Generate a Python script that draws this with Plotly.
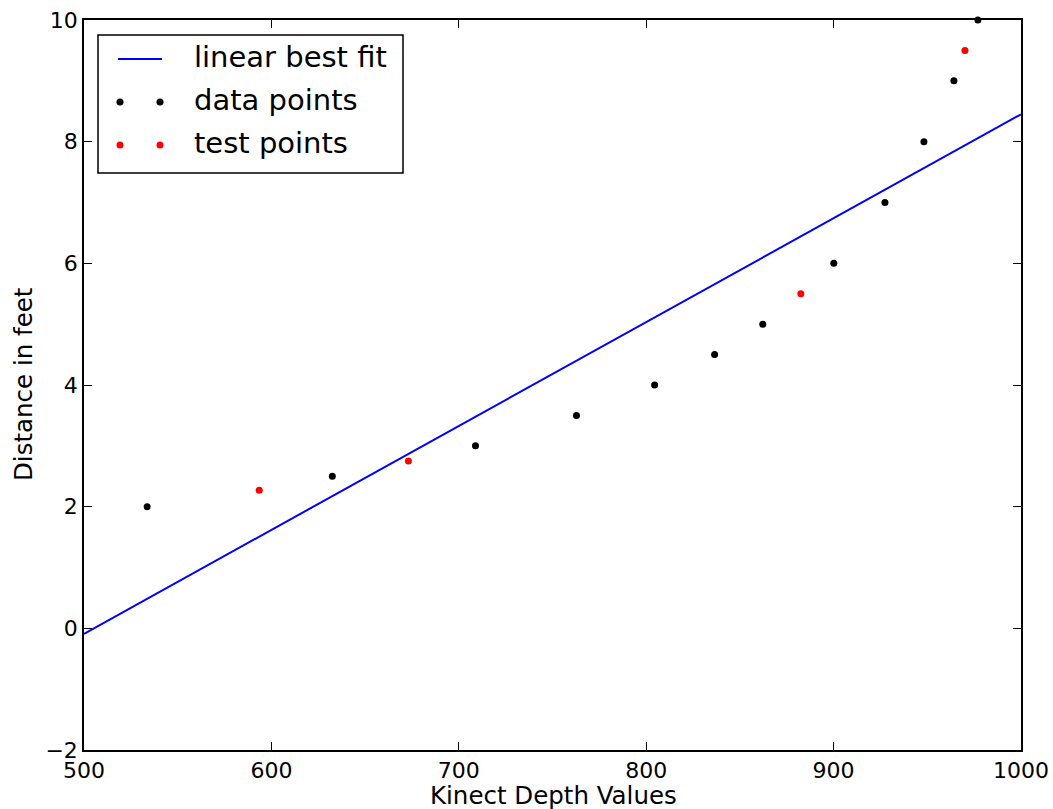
import plotly.graph_objects as go

# Data
data_x = [533.7, 632.5, 708.9, 762.8, 804.5, 836.5, 862.2, 900.1, 927.4, 948.2, 964.2, 977.0]
data_y = [2.0, 2.5, 3.0, 3.5, 4.0, 4.5, 5.0, 6.0, 7.0, 8.0, 9.0, 10.0]
test_x = [593.5, 673.1, 882.5, 970.1]
test_y = [2.27, 2.75, 5.5, 9.5]
fit_x = [500, 1000]
fit_y = [-0.09, 8.45]

x_ticks = [500, 600, 700, 800, 900, 1000]
y_ticks = [-2, 0, 2, 4, 6, 8, 10]

W, H = 1053, 809
L, R, T, B = 84, 1021, 20, 750
FONT = "DejaVu Sans"

fig = go.Figure()
fig.add_trace(go.Scatter(x=fit_x, y=fit_y, mode="lines", line=dict(color="#0000ff", width=2),
                         name="linear best fit", showlegend=False, cliponaxis=True))
fig.add_trace(go.Scatter(x=data_x, y=data_y, mode="markers", marker=dict(color="black", size=7),
                         name="data points", showlegend=False, cliponaxis=False))
fig.add_trace(go.Scatter(x=test_x, y=test_y, mode="markers", marker=dict(color="#ff0000", size=7),
                         name="test points", showlegend=False, cliponaxis=False))

def px(x):
    return (x - L) / (R - L)

def py(y):
    return (B - y) / (B - T)

shapes = []
annotations = []
# legend frame
shapes.append(dict(type="rect", xref="paper", yref="paper", x0=px(98), x1=px(403), y0=py(173), y1=py(35),
                   line=dict(color="black", width=1.5), fillcolor="white", layer="above"))
# line entry
shapes.append(dict(type="line", xref="paper", yref="paper", x0=px(118), x1=px(162), y0=py(59), y1=py(59),
                   line=dict(color="#0000ff", width=2), layer="above"))
r = 3.5
for cy, col in [(102, "black"), (145, "#ff0000")]:
    for cx in [120, 160]:
        shapes.append(dict(type="circle", xref="paper", yref="paper", x0=px(cx - r), x1=px(cx + r),
                           y0=py(cy + r), y1=py(cy - r), fillcolor=col, line=dict(color=col, width=0),
                           layer="above"))
for cy, txt in [(57, "linear best fit"), (100, "data points"), (143, "test points")]:
    annotations.append(dict(xref="paper", yref="paper", x=px(192), y=py(cy), text=txt, showarrow=False,
                            xanchor="left", yanchor="middle", font=dict(family=FONT, size=29, color="black")))

# axis titles
annotations.append(dict(xref="paper", yref="paper", x=px(553), y=py(795), text="Kinect Depth Values",
                        showarrow=False, xanchor="center", yanchor="middle",
                        font=dict(family=FONT, size=24.5, color="black")))
annotations.append(dict(xref="paper", yref="paper", x=px(24), y=py(384), text="Distance in feet",
                        showarrow=False, xanchor="center", yanchor="middle", textangle=-90,
                        font=dict(family=FONT, size=24.5, color="black")))

axis_common = dict(showgrid=False, zeroline=False, showline=True, linecolor="black", linewidth=1.5,
                   mirror="allticks", ticks="inside", ticklen=8, tickwidth=1.2, tickcolor="black",
                   automargin=False, tickfont=dict(family=FONT, size=22, color="black"))

fig.update_layout(
    width=W, height=H,
    margin=dict(l=L, r=W - R, t=T, b=H - B),
    paper_bgcolor="white", plot_bgcolor="white",
    showlegend=False,
    xaxis=dict(range=[500, 1000], tickvals=x_ticks, ticktext=[str(v) for v in x_ticks], **axis_common),
    yaxis=dict(range=[-2, 10], tickvals=y_ticks, ticktext=["\u22122" if v < 0 else str(v) for v in y_ticks],
               **axis_common),
    shapes=shapes,
    annotations=annotations,
)

fig.write_html("out.html")
